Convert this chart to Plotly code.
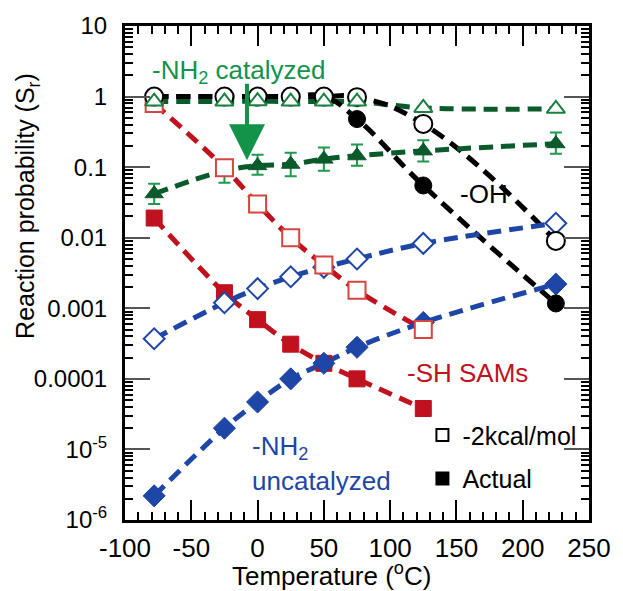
import math
import plotly.graph_objects as go

# ---------------- data ----------------
temps = [-78, -25, 0, 25, 50, 75, 125, 225]

oh_open = [1.0, 1.0, 1.0, 1.0, 1.0, 0.98, 0.41, 0.009]
oh_actual = [1.0, 1.0, 1.0, 1.0, 1.0, 0.48, 0.055, 0.00117]

nh2cat_open = [0.85, 0.85, 0.86, 0.85, 0.85, 0.85, 0.69, 0.67]
nh2cat_actual = [0.042, 0.089, 0.105, 0.11, 0.13, 0.145, 0.17, 0.215]
nh2cat_err_hi = [0.016, 0.010, 0.045, 0.05, 0.06, 0.065, 0.07, 0.095]
nh2cat_err_lo = [0.012, 0.029, 0.027, 0.036, 0.041, 0.040, 0.05, 0.06]

sh_temps = [-78, -25, 0, 25, 50, 75, 125]
sh_open = [0.8, 0.098, 0.030, 0.010, 0.0041, 0.0018, 0.0005]
sh_actual = [0.019, 0.00166, 0.00069, 0.00031, 0.000166, 0.0001, 0.000038]

nh2unc_open = [0.00037, 0.0012, 0.0019, 0.0028, 0.0038, 0.005, 0.0083, 0.016]
nh2unc_actual = [2.2e-6, 2.0e-5, 4.7e-5, 1.0e-4, 1.66e-4, 2.8e-4, 6.3e-4, 0.0022]

ytick_vals = [10, 1, 0.1, 0.01, 0.001, 0.0001, 1e-5, 1e-6]
ytick_text = ["10", "1", "0.1", "0.01", "0.001", "0.0001", "10<sup>-5</sup>", "10<sup>-6</sup>"]
xtick_vals = [-100, -50, 0, 50, 100, 150, 200, 250]
xtick_text = ["-100", "-50", "0", "50", "100", "150", "200", "250"]

# ---------------- styles ----------------
BLACK = "#000000"
GREEN_LINE = "#0b5a2b"
GREEN_OPEN = "#1a8040"
GREEN_TEXT = "#13924a"
GREEN_ERR = "#1f9a4c"
RED = "#c0121e"
RED_OPEN = "#d8453f"
BLUE = "#1e46a6"
DASH = "14px,8px"
LW = 5
FONT = "Liberation Sans, Arial, sans-serif"

fig = go.Figure()

def line(x, y, color, smooth=1.0):
    fig.add_trace(go.Scatter(x=x, y=y, mode="lines", showlegend=False,
                             line=dict(color=color, width=LW, dash=DASH,
                                       shape="spline", smoothing=smooth),
                             hoverinfo="skip"))

line(temps, nh2cat_open, GREEN_LINE)
line(temps, oh_actual, BLACK, 1.3)
line(temps, oh_open, BLACK, 1.3)
line(temps, nh2cat_actual, GREEN_LINE)
line(sh_temps, sh_open, RED)
line(sh_temps, sh_actual, RED)
line(temps, nh2unc_open, BLUE)
line(temps, nh2unc_actual, BLUE)

def markers(x, y, symbol, size, color, fill, lw=2, err=None):
    kw = {}
    if err is not None:
        kw["error_y"] = dict(type="data", symmetric=False, array=err[0], arrayminus=err[1],
                             color=GREEN_ERR, thickness=2, width=6)
    fig.add_trace(go.Scatter(x=x, y=y, mode="markers", showlegend=False,
                             marker=dict(symbol=symbol, size=size, color=fill,
                                         line=dict(color=color, width=lw)), **kw))

markers(sh_temps, sh_actual, "square", 16, RED, RED, 1)
markers(temps, nh2unc_actual, "diamond", 17, BLUE, BLUE, 1)
markers(temps, oh_actual, "circle", 17, BLACK, BLACK, 1)
markers(temps, nh2cat_actual, "triangle-up", 16, GREEN_LINE, GREEN_LINE, 1,
        err=(nh2cat_err_hi, nh2cat_err_lo))
markers(temps, nh2unc_open, "diamond", 16, BLUE, "white", 2)
markers(sh_temps, sh_open, "square", 17, RED_OPEN, "white", 2)
markers(temps, oh_open, "circle", 18, BLACK, "white", 2)
markers(temps, nh2cat_open, "triangle-up", 16, GREEN_OPEN, "white", 2)

# legend entries
fig.add_trace(go.Scatter(x=[None], y=[None], mode="markers", name="-2kcal/mol",
                         legendgroup="a",
                         marker=dict(symbol="square", size=17, color="white",
                                     line=dict(color=BLACK, width=3))))
fig.add_trace(go.Scatter(x=[None], y=[None], mode="markers", name="Actual",
                         legendgroup="b",
                         marker=dict(symbol="square", size=20, color=BLACK,
                                     line=dict(color=BLACK, width=1))))

L = math.log10
annotations = [
    dict(x=-81.5, y=0.36, xref="x", yref="y", text="-NH<sub>2</sub> catalyzed",
         showarrow=False, xanchor="left",
         font=dict(size=26, color=GREEN_TEXT, family=FONT)),
    dict(x=171, y=-1.38, xref="x", yref="y", text="-OH", showarrow=False,
         font=dict(size=26, color=BLACK, family=FONT)),
    dict(x=158.7, y=-3.92, xref="x", yref="y", text="-SH SAMs", showarrow=False,
         font=dict(size=26, color=RED, family=FONT)),
    dict(x=-6, y=-4.97, xref="x", yref="y", text="-NH<sub>2</sub>", showarrow=False,
         xanchor="left", font=dict(size=26, color=BLUE, family=FONT)),
    dict(x=-6, y=-5.45, xref="x", yref="y", text="uncatalyzed", showarrow=False,
         xanchor="left", font=dict(size=26, color=BLUE, family=FONT)),
    dict(x=-8, y=L(0.125), ax=-8, ay=L(1.6), xref="x", yref="y", axref="x", ayref="y",
         text="", showarrow=True, arrowhead=2, arrowsize=1.8, arrowwidth=4,
         arrowcolor=GREEN_TEXT),
    dict(x=-0.211, y=0.636, xref="paper", yref="paper", xanchor="center",
         yanchor="middle",
         text="Reaction probability (S<sub>r</sub>)", textangle=-90, showarrow=False,
         font=dict(size=25, color=BLACK, family=FONT)),
    dict(x=0.446, y=-0.111, xref="paper", yref="paper", xanchor="center",
         yanchor="middle",
         text="Temperature (<sup>o</sup>C)", showarrow=False,
         font=dict(size=26, color=BLACK, family=FONT)),
]

fig.update_layout(
    width=623, height=591,
    margin=dict(l=125, r=25, t=25, b=71),
    paper_bgcolor="white", plot_bgcolor="white",
    font=dict(family=FONT, size=24, color=BLACK),
    annotations=annotations,
    legend=dict(x=0.641, y=0.218, xanchor="left", yanchor="top",
                bgcolor="rgba(0,0,0,0)", font=dict(size=25, family=FONT),
                tracegroupgap=8, itemsizing="constant"),
    showlegend=True,
)

fig.update_xaxes(range=[-100, 250], tickvals=xtick_vals, ticktext=xtick_text,
                 ticks="inside", ticklen=20,
                 tickwidth=1.5, tickcolor=BLACK, showline=True, linewidth=3,
                 linecolor=BLACK, mirror="ticks", showgrid=False, zeroline=False,
                 tickfont=dict(size=26, family=FONT), ticklabelstandoff=3,
                 minor=dict(ticks="inside", ticklen=8, tickwidth=1.5,
                            tickcolor=BLACK, dtick=10, showgrid=False))
fig.update_yaxes(type="log", range=[-6, 1], tickvals=ytick_vals, ticktext=ytick_text,
                 ticks="inside", ticklen=25, tickwidth=1.5, tickcolor="#555555",
                 showline=True, linewidth=3, linecolor=BLACK, mirror="ticks",
                 showgrid=False, zeroline=False, ticklabelstandoff=10,
                 tickfont=dict(size=24, family=FONT),
                 minor=dict(ticks="inside", ticklen=8, tickwidth=1.5,
                            tickcolor=BLACK, dtick="D1", showgrid=False))

fig.write_html("out.html")
